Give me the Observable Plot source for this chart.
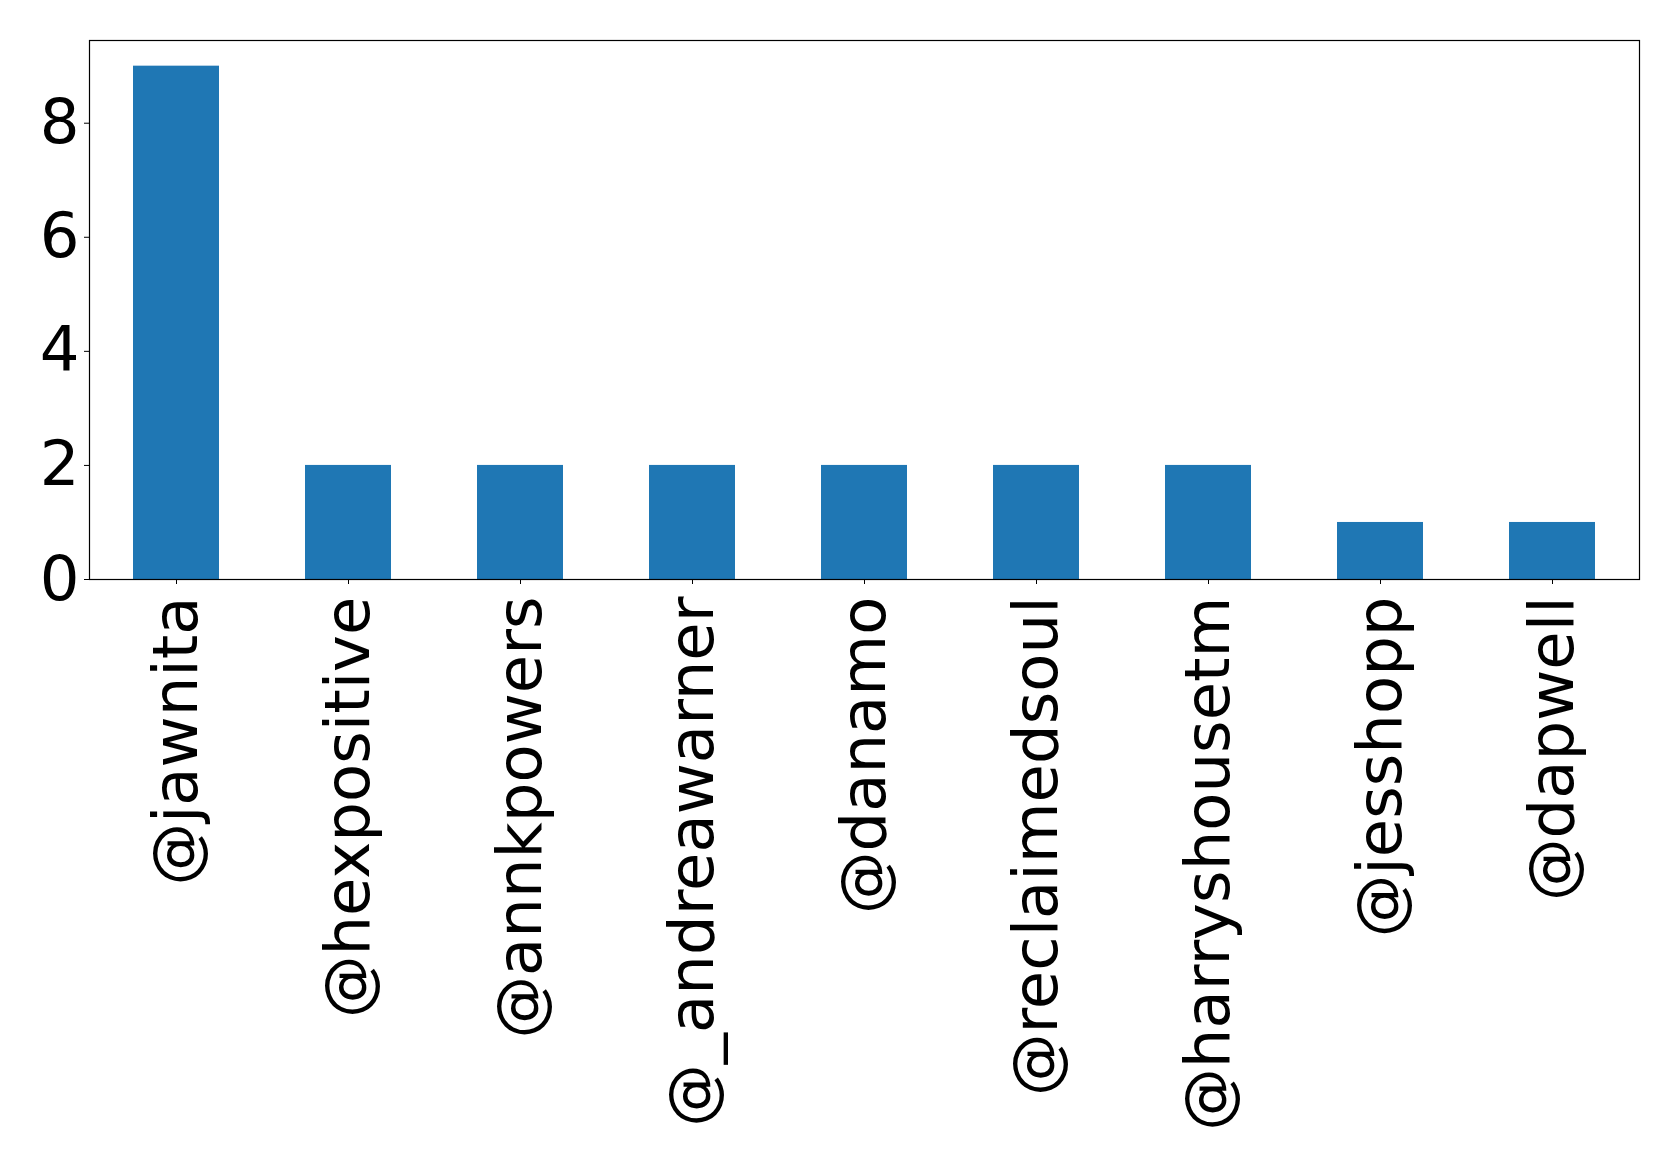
<!DOCTYPE html>
<html>
<head>
<meta charset="utf-8">
<script src="https://cdn.jsdelivr.net/npm/d3@7"></script>
<script src="https://cdn.jsdelivr.net/npm/@observablehq/plot@0.6"></script>
<style>
  html, body { margin: 0; padding: 0; background: #fff; }
  svg { display: block; }
</style>
</head>
<body>
<div id="chart"></div>
<script>
const users = ["@jawnita", "@hexpositive", "@annkpowers", "@_andreawarner", "@danamo", "@reclaimedsoul", "@harryshousetm", "@jesshopp", "@dapwell"];
const counts = [9, 2, 2, 2, 2, 2, 2, 1, 1];
const yTicks = [0, 2, 4, 6, 8];

const data = users.map((u, i) => ({user: u, count: counts[i]}));

const chart = Plot.plot({
  width: 1679,
  height: 1162,
  marginLeft: 89,
  marginRight: 40,
  marginTop: 40,
  marginBottom: 583,
  style: {fontFamily: "DejaVu Sans", fontSize: "62.5px", color: "#000", background: "#fff"},
  x: {domain: users, paddingInner: 0.5, paddingOuter: 0.25, label: null},
  y: {domain: [0, 9.45], label: null},
  marks: [
    Plot.barY(data, {x: "user", y: "count", fill: "#1f77b4"}),
    Plot.frame({stroke: "#000", strokeWidth: 1.2}),
    Plot.axisX({tickRotate: -90, tickSize: 5, tickPadding: 12, fontSize: 62.5, label: null}),
    Plot.axisY({ticks: yTicks, tickSize: 5, tickPadding: 5, fontSize: 62.5, label: null})
  ]
});
document.getElementById("chart").appendChild(chart);
</script>
</body>
</html>
